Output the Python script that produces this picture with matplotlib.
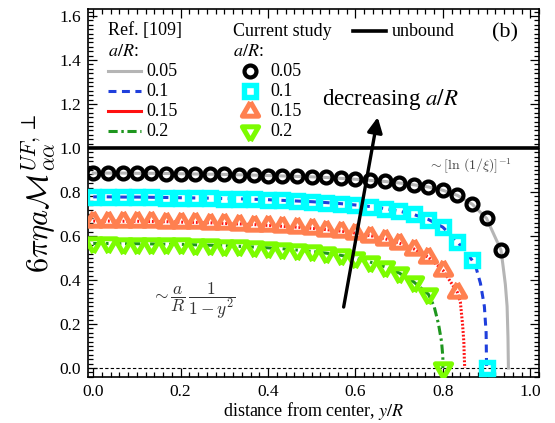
import matplotlib
matplotlib.use("Agg")
import matplotlib.pyplot as plt
from matplotlib.markers import MarkerStyle
from matplotlib.ticker import MultipleLocator

# distance from center y/R at which the simulation points sit
pos = [0.0, 0.033, 0.067, 0.1, 0.133, 0.167, 0.2, 0.233, 0.267, 0.3,
       0.333, 0.367, 0.4, 0.433, 0.467, 0.5, 0.533, 0.567, 0.6, 0.633,
       0.667, 0.7, 0.733, 0.767, 0.8, 0.833, 0.867, 0.9, 0.933]

# current study, a/R = 0.05, 0.1, 0.15, 0.2
cur_005 = [0.886, 0.886, 0.886, 0.885, 0.885, 0.884, 0.883, 0.882, 0.881, 0.880,
           0.878, 0.877, 0.875, 0.873, 0.871, 0.869, 0.866, 0.862, 0.858, 0.853,
           0.848, 0.841, 0.833, 0.823, 0.808, 0.785, 0.745, 0.680, 0.536]
cur_01 = [0.778, 0.778, 0.777, 0.777, 0.776, 0.775, 0.774, 0.773, 0.772, 0.770,
          0.769, 0.767, 0.765, 0.762, 0.759, 0.756, 0.752, 0.747, 0.741, 0.734,
          0.725, 0.713, 0.698, 0.675, 0.640, 0.575, 0.490, 0.0]
cur_015 = [0.668, 0.668, 0.667, 0.667, 0.666, 0.665, 0.663, 0.662, 0.660, 0.657,
           0.655, 0.652, 0.648, 0.644, 0.640, 0.635, 0.629, 0.622, 0.613, 0.602,
           0.588, 0.568, 0.542, 0.503, 0.445, 0.345]
cur_02 = [0.566, 0.566, 0.565, 0.565, 0.564, 0.563, 0.562, 0.560, 0.558, 0.556,
          0.553, 0.550, 0.546, 0.542, 0.536, 0.530, 0.522, 0.512, 0.499, 0.482,
          0.460, 0.432, 0.392, 0.335, 0.0]

# Ref. [109] curves: same as the points, plus the steep drop near the wall
tail_005_x = [0.938, 0.943, 0.947, 0.949, 0.95]
tail_005_y = [0.46, 0.38, 0.28, 0.14, 0.0]
tail_01_x = [0.874, 0.886, 0.895, 0.899, 0.9]
tail_01_y = [0.47, 0.385, 0.28, 0.16, 0.0]
tail_015_x = [0.84, 0.845, 0.848, 0.849, 0.85]
tail_015_y = [0.30, 0.20, 0.12, 0.05, 0.0]
tail_02_x = [0.78, 0.79, 0.797, 0.8, 0.8]
tail_02_y = [0.28, 0.20, 0.12, 0.05, 0.0]

ratios = ["0.05", "0.1", "0.15", "0.2"]
unbound = 1.0

W, H = 555, 423
SERIF = "Liberation Serif"
plt.rcParams["font.family"] = [SERIF, "DejaVu Serif"]
plt.rcParams["mathtext.fontset"] = "cm"

fig = plt.figure(figsize=(W / 100, H / 100), dpi=100)
ax = fig.add_axes([88 / W, 1 - 377 / H, 451 / W, 368 / H])


def fx(px):
    return px / W


def fy(py):
    return 1 - py / H


tri_up = MarkerStyle([(0, 1), (-0.866, -0.5), (0.866, -0.5), (0, 1)], joinstyle="miter")
tri_dn = MarkerStyle([(0, -1), (-0.866, 0.5), (0.866, 0.5), (0, -1)], joinstyle="miter")

# reference lines (below the hollow markers)
ref_styles = [
    dict(color="#b5b5b5", lw=2.2, ls="-"),
    dict(color="#1f3fdc", lw=2.2, ls=(0, (2.6, 1.8))),
    dict(color="#ff1010", lw=2.2, ls=(0, (0.6, 0.6))),
    dict(color="#1e961e", lw=2.2, ls=(0, (3, 1.2, 0.8, 1.2))),
]
ax.plot(pos[:29] + tail_005_x, cur_005 + tail_005_y, zorder=2, **ref_styles[0])
ax.plot(pos[:27] + tail_01_x, cur_01[:27] + tail_01_y, zorder=2, **ref_styles[1])
ax.plot(pos[:26] + tail_015_x, cur_015 + tail_015_y, zorder=2, **ref_styles[2])
ax.plot(pos[:24] + tail_02_x, cur_02[:24] + tail_02_y, zorder=2, **ref_styles[3])

mk_styles = [
    dict(marker="o", ms=8.6, mew=3.0, mec="black"),
    dict(marker="s", ms=8.6, mew=3.9, mec="#00ffff"),
    dict(marker=tri_up, ms=13.5, mew=3.6, mec="#ff8050"),
    dict(marker=tri_dn, ms=13.5, mew=3.6, mec="#7cfc00"),
]
ax.plot(pos[:28], cur_01, ls="none", mfc="none", zorder=3, **mk_styles[1])
ax.plot(pos[:26], cur_015, ls="none", mfc="none", zorder=3, **mk_styles[2])
ax.plot(pos[:25], cur_02, ls="none", mfc="none", zorder=3, **mk_styles[3])
ax.plot(pos[:29], cur_005, ls="none", mfc="none", zorder=3, **mk_styles[0])

ax.axhline(unbound, color="black", lw=2.6, zorder=4)
ax.axhline(0, color="black", lw=0.8, ls=(0, (3, 2)), zorder=1)

ax.set_xlim(-0.012, 1.02)
ax.set_ylim(-0.041, 1.632)
ax.xaxis.set_major_locator(MultipleLocator(0.2))
ax.xaxis.set_minor_locator(MultipleLocator(0.02))
ax.yaxis.set_major_locator(MultipleLocator(0.2))
ax.yaxis.set_minor_locator(MultipleLocator(0.02))
ax.xaxis.set_major_formatter(lambda v, p: f"{v:.1f}")
ax.yaxis.set_major_formatter(lambda v, p: f"{v:.1f}")
ax.tick_params(which="both", direction="in", top=True, right=True, width=0.9)
ax.tick_params(which="major", length=6.5, labelsize=12.5, pad=5)
ax.tick_params(which="minor", length=3.5)
for s in ax.spines.values():
    s.set_linewidth(1.2)

ax.set_xlabel("distance from center, $y/R$", fontsize=13, labelpad=0,
              math_fontfamily="stix")
ax.set_ylabel(r"$6\pi\eta a\mathcal{M}_{\alpha\alpha}^{UF,\perp}$", fontsize=22,
              labelpad=1)

# arrow and annotations
ax.annotate("", xy=(0.651, 1.14), xytext=(0.573, 0.277),
            arrowprops=dict(arrowstyle="-|>,head_length=0.9,head_width=0.45",
                            color="black", lw=2.4, shrinkA=0, shrinkB=0), zorder=6)
fig.text(fx(322), fy(100), "decreasing $a/R$", fontsize=16.5, va="center",
         math_fontfamily="stix")
fig.text(fx(428), fy(166), r"$\sim[\ln\,(1/\xi)]^{-1}$", fontsize=10,
         va="center", color="#444444")
fig.text(fx(151), fy(301), r"$\sim\dfrac{a}{R}\,\dfrac{1}{1-y^2}$", fontsize=12.5,
         va="center", color="#333333")
fig.text(fx(492), fy(33), "(b)", fontsize=16, va="center")

# hand-built legend
fig.text(fx(108), fy(31), "Ref. [109]", fontsize=13, va="center")
fig.text(fx(108), fy(51), "$a/R$:", fontsize=13, va="center", math_fontfamily="stix")
fig.text(fx(233), fy(31), "Current study", fontsize=13, va="center")
fig.text(fx(233), fy(51), "$a/R$:", fontsize=13, va="center", math_fontfamily="stix")
leg_rows = [71, 91, 111, 131]
for i, lab in enumerate(ratios):
    y = fy(leg_rows[i])
    st = dict(ref_styles[i])
    if i == 2:
        st["ls"] = "-"
    fig.add_artist(plt.Line2D([fx(108), fx(141)], [y, y], **st))
    fig.text(fx(146), y, lab, fontsize=13, va="center")
    fig.add_artist(plt.Line2D([fx(250)], [y], ls="none", mfc="none", **mk_styles[i]))
    fig.text(fx(270), y, lab, fontsize=13, va="center")
fig.add_artist(plt.Line2D([fx(353), fx(386)], [fy(31), fy(31)], color="black", lw=2.6))
fig.text(fx(392), fy(31), "unbound", fontsize=13, va="center")

fig.savefig("out.png", dpi=100)
